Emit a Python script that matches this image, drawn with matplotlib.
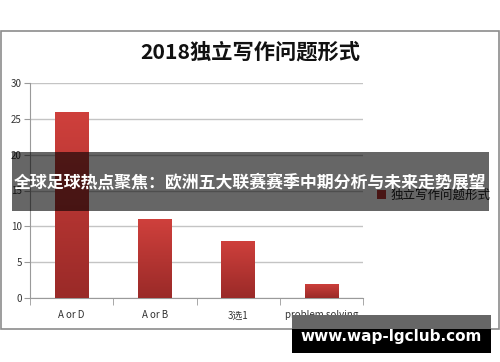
import matplotlib
matplotlib.use("Agg")
import matplotlib.pyplot as plt
import numpy as np
from matplotlib.colors import LinearSegmentedColormap
from matplotlib.patches import Rectangle

plt.rcParams["font.family"] = ["Noto Sans CJK SC", "DejaVu Sans"]

# data
categories = ["A or D", "A or B", "3选1", "problem solving"]
values = [26, 11, 8, 2]
series_name = "独立写作问题形式"
title = "2018独立写作问题形式"
banner_text = "全球足球热点聚焦：欧洲五大联赛赛季中期分析与未来走势展望"
watermark = "www.wap-lgclub.com"

W, H = 500, 362
fig = plt.figure(figsize=(W / 100, H / 100), dpi=100)
fig.patch.set_facecolor("white")


def fx(px):
    return px / W


def fy(py):
    return 1 - py / H


# outer chart frame
fig.add_artist(Rectangle((fx(1), fy(329)), fx(498), 298 / H, transform=fig.transFigure,
                         facecolor="white", edgecolor="#8c8c8c", lw=1.2, zorder=-1))

ax = fig.add_axes([fx(30), fy(298), fx(333), 215 / H])
x = np.arange(len(categories))
bars = ax.bar(x, values, width=0.4, color="#b83533", zorder=2, label=series_name)

# vertical red gradient on each bar
cmap = LinearSegmentedColormap.from_list("bar", ["#9a2a28", "#cf403c"])
grad = np.linspace(0, 1, 100).reshape(-1, 1)
for b in bars:
    x0, w, h = b.get_x(), b.get_width(), b.get_height()
    im = ax.imshow(grad, extent=(x0, x0 + w, 0, h), origin="lower", cmap=cmap,
                   aspect="auto", zorder=3)
    im.set_clip_path(b)

ax.set_xlim(-0.5, len(categories) - 0.5)
ax.set_ylim(0, 30)
ax.set_yticks(range(0, 31, 5))
ax.set_xticks(x)
ax.set_xticklabels(categories)
ax.set_xticks(np.arange(-0.5, len(categories), 1), minor=True)
ax.grid(axis="y", color="#c4c4c4", lw=1, zorder=0)
ax.set_axisbelow(True)
for s in ["top", "right"]:
    ax.spines[s].set_visible(False)
for s in ["left", "bottom"]:
    ax.spines[s].set_color("#9a9a9a")
ax.tick_params(axis="y", length=4, color="#9a9a9a", labelsize=7, labelcolor="#333333", pad=2)
ax.tick_params(axis="x", which="major", length=0, labelsize=7, labelcolor="#333333", pad=9)
ax.tick_params(axis="x", which="minor", length=5, color="#9a9a9a")

fig.text(0.5, fy(52), title, ha="center", va="center", fontsize=15.3,
         fontweight="bold", color="#111111")

fig.legend(handles=[bars], labels=[series_name], loc="center left",
           bbox_to_anchor=(fx(366), fy(195)), frameon=False, fontsize=9,
           handlelength=0.7, handleheight=0.7, handletextpad=0.4, labelcolor="#222222")

# dark overlay banner with headline
fig.add_artist(Rectangle((fx(12), fy(211)), fx(477), 59 / H, transform=fig.transFigure,
                         facecolor="black", alpha=0.6, lw=0, zorder=10))
fig.text(fx(250), fy(183), banner_text, ha="center", va="center", fontsize=12.2,
         fontweight="bold", color="white", zorder=11)

# watermark box
fig.add_artist(Rectangle((fx(292), fy(329)), fx(199), 14 / H, transform=fig.transFigure,
                         facecolor="#666666", lw=0, zorder=10))
fig.add_artist(Rectangle((fx(292), fy(353)), fx(199), 24 / H, transform=fig.transFigure,
                         facecolor="black", lw=0, zorder=10))
fig.text(fx(391), fy(336), watermark, ha="center", va="center", fontsize=11,
         fontweight="bold", color="white", family="DejaVu Sans", zorder=11)

fig.savefig("out.png", dpi=100)
